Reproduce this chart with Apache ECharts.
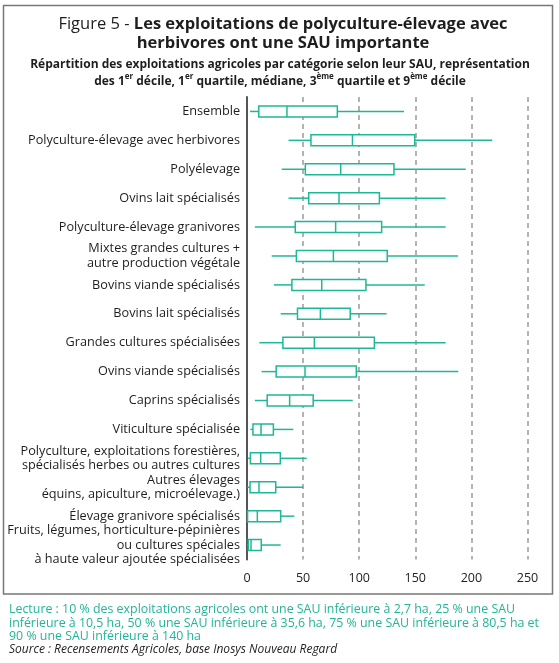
<!DOCTYPE html>
<html><head><meta charset="utf-8">
<script src="https://cdn.jsdelivr.net/npm/echarts@6/dist/echarts.min.js"></script>
<style>html,body{margin:0;padding:0;background:#fff}#c{width:559px;height:663px}</style>
</head><body><div id="c"></div>
<script>
var categories = [
  "Ensemble",
  "Polyculture-élevage avec herbivores",
  "Polyélevage",
  "Ovins lait spécialisés",
  "Polyculture-élevage granivores",
  "Mixtes grandes cultures +\nautre production végétale",
  "Bovins viande spécialisés",
  "Bovins lait spécialisés",
  "Grandes cultures spécialisées",
  "Ovins viande spécialisés",
  "Caprins spécialisés",
  "Viticulture spécialisée",
  "Polyculture, exploitations forestières,\nspécialisés herbes ou autres cultures",
  "Autres élevages\néquins, apiculture, microélevage.)",
  "Élevage granivore spécialisés",
  "Fruits, légumes, horticulture-pépinières\nou cultures spéciales\nà haute valeur ajoutée spécialisées"
];
var decile1  = [2.7, 37, 31, 37, 7, 22, 24, 30, 11, 13, 7, 3, 1, 0.3, 0.2, 0.3];
var quartile1 = [10.5, 57, 52, 55, 43, 44, 40, 45, 32, 26, 18, 5.3, 3, 2.7, 0.5, 1.2];
var mediane  = [35.6, 94, 83.5, 82, 79, 77, 66.6, 65.4, 60, 51.7, 38, 12.5, 12.2, 10.7, 9.2, 3.6];
var quartile3 = [80.5, 149.5, 131, 118, 120, 125, 106, 92, 113.5, 97.4, 59, 23.5, 29.7, 25.6, 30, 12.7];
var decile9  = [140, 218.6, 195, 177, 177, 188, 158.4, 124.5, 177, 188.3, 94.2, 41.3, 53.2, 50.2, 42.2, 30];
var xTicks = [0, 50, 100, 150, 200, 250];

var TEAL = '#1fb896';
var FONT = 'Open Sans';
var data = categories.map(function(c, i){
  return [i, decile1[i], quartile1[i], mediane[i], quartile3[i], decile9[i]];
});

var chart = echarts.init(document.getElementById('c'), null, {renderer:'canvas'});
chart.setOption({
  animation: false,
  backgroundColor: '#fff',
  textStyle: {fontFamily: FONT},
  title: [{
    left: 278, top: 10, textAlign: 'center',
    text: '{n|Figure 5 - }{b|Les exploitations de polyculture-élevage avec}\n{b|herbivores ont une SAU importante}',
    textStyle: {
      rich: {
        n: {fontFamily: FONT, fontSize: 16.5, fontWeight: 'normal', color: '#1e1e1e', lineHeight: 19},
        b: {fontFamily: FONT, fontSize: 16.5, fontWeight: 'bold', color: '#1e1e1e', lineHeight: 19}
      }
    }
  }, {
    left: 275, top: 51, textAlign: 'center',
    text: '{b|Répartition des exploitations agricoles par catégorie selon leur SAU, représentation}\n{b|des 1}{s|er}{b| décile, 1}{s|er}{b| quartile, médiane, 3}{s|ème}{b| quartile et 9}{s|ème}{b| décile}',
    textStyle: {
      rich: {
        b: {fontFamily: FONT, fontSize: 12, fontWeight: 'bold', color: '#1e1e1e', lineHeight: 17},
        s: {fontFamily: FONT, fontSize: 8, fontWeight: 'bold', color: '#1e1e1e', lineHeight: 10, verticalAlign: 'top'}
      }
    }
  }, {
    left: 4, top: 598,
    text: 'Lecture : 10 % des exploitations agricoles ont une SAU inférieure à 2,7 ha, 25 % une SAU\ninférieure à 10,5 ha, 50 % une SAU inférieure à 35,6 ha, 75 % une SAU inférieure à 80,5 ha et\n90 % une SAU inférieure à 140 ha',
    textStyle: {fontFamily: FONT, fontSize: 12.4, fontWeight: 'normal', color: '#22b597', lineHeight: 13.5}
  }, {
    left: 4, top: 639,
    text: 'Source : Recensements Agricoles, base Inosys Nouveau Regard',
    textStyle: {fontFamily: FONT, fontSize: 12, fontWeight: 'normal', fontStyle: 'italic', color: '#1e1e1e'}
  }],
  graphic: [{
    type: 'rect', silent: true, z: -1,
    shape: {x: 3.5, y: 5.5, width: 549, height: 588.5},
    style: {fill: 'none', stroke: '#777', lineWidth: 1.5}
  }],
  grid: {left: 247, top: 97, width: 280.5, height: 462.5},
  xAxis: {
    type: 'value', min: 0, max: 250, interval: 50,
    axisLine: {show: false}, axisTick: {show: false},
    axisLabel: {fontFamily: FONT, fontSize: 12.5, color: '#222', margin: 12,
      formatter: function(v){ return xTicks.indexOf(v) >= 0 ? String(v) : ''; }},
    splitLine: {show: true, lineStyle: {color: '#9a9a9a', width: 1.5, type: [5, 4]}}
  },
  yAxis: {
    type: 'category', data: categories, inverse: true,
    axisLine: {show: true, lineStyle: {color: '#555', width: 2}},
    axisTick: {show: false},
    axisLabel: {fontFamily: FONT, fontSize: 12.7, color: '#1e1e1e', margin: 7, lineHeight: 14.5, align: 'right'},
    splitLine: {show: false}
  },
  series: [{
    type: 'custom',
    data: data,
    encode: {x: [1, 2, 3, 4, 5], y: 0},
    renderItem: function(params, api){
      var cat = api.value(0);
      var p = [1,2,3,4,5].map(function(k){ return api.coord([api.value(k), cat]); });
      var y = p[0][1];
      var h = 11;
      var ls = {stroke: TEAL, lineWidth: 1.5};
      return {
        type: 'group',
        children: [
          {type: 'line', shape: {x1: p[0][0], y1: y, x2: p[1][0], y2: y}, style: ls},
          {type: 'line', shape: {x1: p[3][0], y1: y, x2: p[4][0], y2: y}, style: ls},
          {type: 'rect', shape: {x: p[1][0], y: y - h/2, width: p[3][0] - p[1][0], height: h},
            style: {fill: '#fff', stroke: TEAL, lineWidth: 1.5}},
          {type: 'line', shape: {x1: p[2][0], y1: y - h/2, x2: p[2][0], y2: y + h/2}, style: ls}
        ]
      };
    }
  }]
});
</script></body></html>
